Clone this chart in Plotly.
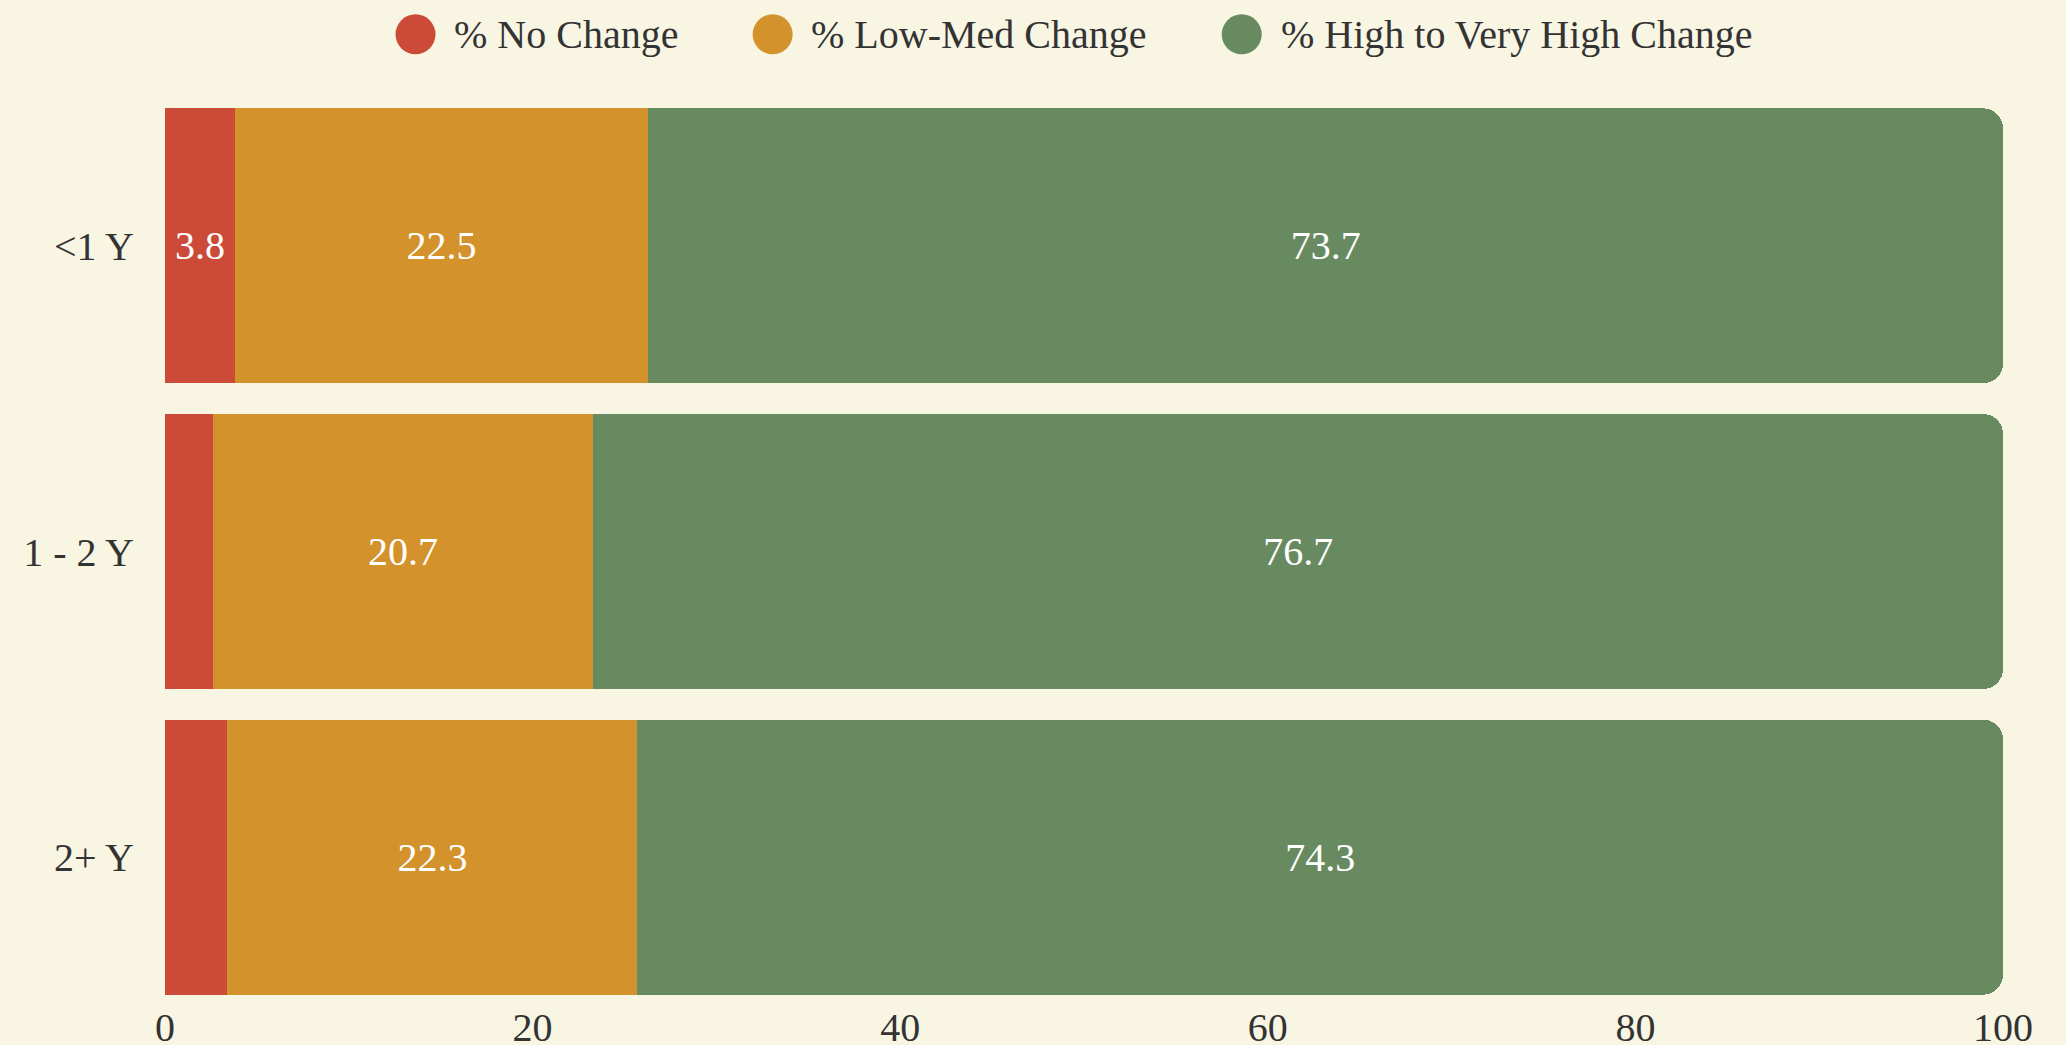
import plotly.graph_objects as go

COLOUR = {
    "bg":     "#f8f5e3",
    "red":    "#cc4b38",
    "orange": "#d3922c",
    "green":  "#688a60",
    "text":   "#333333",
    "white":  "#ffffff",
}
FONT = "Liberation Serif, Times New Roman, serif"

categories = ["<1 Y", "1 - 2 Y", "2+ Y"]
series_names = ["% No Change", "% Low-Med Change", "% High to Very High Change"]
no_change = [3.8, 2.6, 3.4]
low_med = [22.5, 20.7, 22.3]
high = [73.7, 76.7, 74.3]
x_ticks = [0, 20, 40, 60, 80, 100]

series = [
    (series_names[0], no_change, COLOUR["red"]),
    (series_names[1], low_med, COLOUR["orange"]),
    (series_names[2], high, COLOUR["green"]),
]

fig = go.Figure()
for name, vals, colour in series:
    # labels too wide for the thin red segments are left out
    labels = [f"{v}" if v >= 3.5 else "" for v in vals]
    fig.add_trace(go.Bar(
        y=categories, x=vals, name=name, orientation="h",
        marker=dict(color=colour, line=dict(width=0)),
        text=labels, textposition="inside", insidetextanchor="middle",
        textfont=dict(color=COLOUR["white"], size=40, family=FONT),
        showlegend=False,
    ))

# custom legend with large circle markers
legend_x = [(0.1363, 0.1564), (0.3306, 0.3506), (0.5858, 0.6063)]
legend_y = 1.064
for (mx, tx), (name, _, colour) in zip(legend_x, series):
    fig.add_shape(
        type="circle", xref="paper", yref="paper",
        xsizemode="pixel", ysizemode="pixel",
        xanchor=mx, yanchor=legend_y,
        x0=-20, x1=20, y0=-20, y1=20,
        fillcolor=colour, line=dict(width=0),
    )
    fig.add_annotation(
        x=tx, y=legend_y, xref="paper", yref="paper",
        xanchor="left", yanchor="middle", showarrow=False,
        text=name, font=dict(size=40, color=COLOUR["text"], family=FONT),
    )

fig.update_layout(
    width=2066, height=1045,
    paper_bgcolor=COLOUR["bg"], plot_bgcolor=COLOUR["bg"],
    font=dict(family=FONT, color=COLOUR["text"], size=40),
    margin=dict(l=165, r=63, t=93, b=35),
    barmode="stack", bargap=0.1, barcornerradius=20,
    xaxis=dict(range=[0, 100], tickvals=x_ticks, showgrid=False,
               zeroline=False, showline=False, automargin=False,
               ticklabelstandoff=-10, tickfont=dict(size=40)),
    yaxis=dict(categoryorder="array", categoryarray=categories,
               autorange="reversed", showgrid=False, zeroline=False,
               automargin=False, ticklabelstandoff=30,
               tickfont=dict(size=40)),
)

# drop the page margin so the figure fills the window
fig.write_html(
    "out.html",
    config={"displayModeBar": False},
    post_script="document.body.style.margin='0';"
                "document.body.style.background='#f8f5e3';",
)
